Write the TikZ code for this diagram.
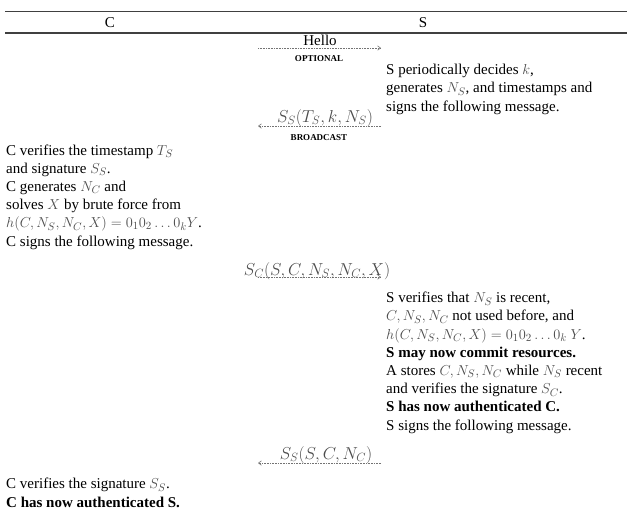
\documentclass[tikz,border=0pt]{standalone}
\usepackage{fontspec}
\setmainfont{Liberation Serif}
\usetikzlibrary{arrows.meta}
\newcommand{\gm}[1]{{\color{black!70}$#1$}}
\begin{document}
\begin{tikzpicture}[x=1pt,y=-1pt,
  txt/.style={anchor=base west, align=left, inner sep=0pt, font=\fontsize{15}{18.2}\selectfont},
  msg/.style={draw=black!55, densely dotted, line width=0.6pt, -{Straight Barb[length=3pt,width=4.5pt]}},
  lbl/.style={inner sep=0pt, anchor=base, font=\fontsize{17}{19}\selectfont, text=black!70},
  tag/.style={inner sep=0pt, anchor=base, font=\fontsize{9}{10}\selectfont\bfseries},
  rule/.style={draw=black!75, line width=1.6pt},
  head/.style={inner sep=0pt, anchor=base, font=\fontsize{15}{17}\selectfont}]
\useasboundingbox (0,0) rectangle (627,523);
% header
\coordinate (r1a) at (5,11.5); \coordinate (r1b) at (627,11.5);
\coordinate (r2a) at (5,33); \coordinate (r2b) at (627,33);
\draw[rule] (r1a) -- (r1b);
\draw[rule] (r2a) -- (r2b);
\node[head] (hc) at (110,27) {C};
\node[head] (hs) at (423,27) {S};
% Hello
\coordinate (m1a) at (258,48); \coordinate (m1b) at (381,48);
\draw[msg] (m1a) -- (m1b);
\node[lbl, text=black, font=\fontsize{15}{17}\selectfont] (hello) at (320,45) {Hello};
\node[tag] (opt) at (319,61) {OPTIONAL};
% S block 1
\node[txt] (s1) at (386,111) {S periodically decides \gm{k},\\
generates \gm{N_S}, and timestamps and\\
signs the following message.};
% broadcast
\coordinate (m2a) at (381,126); \coordinate (m2b) at (258,126);
\draw[msg] (m2a) -- (m2b);
\node[lbl] (l2) at (325,122) {$S_S(T_S,k,N_S)$};
\node[tag] (bc) at (319,140) {BROADCAST};
% C block 1
\node[txt] (c1) at (6,246) {C verifies the timestamp \gm{T_S}\\
and signature \gm{S_S}.\\
C generates \gm{N_C} and\\
solves \gm{X} by brute force from\\
\gm{h(C,N_S,N_C,X)=0_1 0_2 \ldots 0_k Y}.\\
C signs the following message.};
% S_C message
\coordinate (m3a) at (258,277); \coordinate (m3b) at (381,277);
\draw[msg] (m3a) -- (m3b);
\node[lbl] (l3) at (317,275) {$S_C(S,C,N_S,N_C,X)$};
% S block 2
\node[txt] (s2) at (386,430) {S verifies that \gm{N_S} is recent,\\
\gm{C, N_S, N_C} not used before, and\\
\gm{h(C,N_S,N_C,X)=0_1 0_2 \ldots 0_k\ Y}.\\
\textbf{S may now commit resources.}\\
A stores \gm{C, N_S, N_C} while \gm{N_S} recent\\
and verifies the signature \gm{S_C}.\\
\textbf{S has now authenticated C.}\\
S signs the following message.};
% final message
\coordinate (m4a) at (381,463); \coordinate (m4b) at (258,463);
\draw[msg] (m4a) -- (m4b);
\node[lbl] (l4) at (326,459) {$S_S(S,C,N_C)$};
% C block 2
\node[txt] (c2) at (6,507) {C verifies the signature \gm{S_S}.\\
\textbf{C has now authenticated S.}};
\end{tikzpicture}
\end{document}
